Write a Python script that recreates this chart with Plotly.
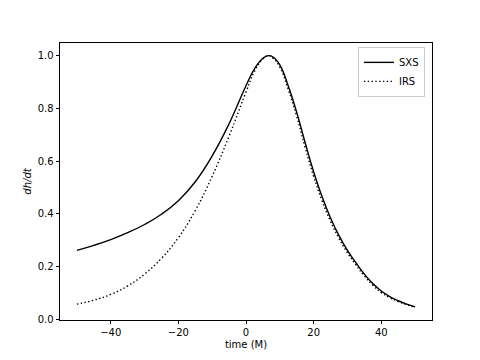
import plotly.graph_objects as go

time_m = [-50, -45, -40, -35, -30, -25, -20, -15, -10, -5, 0, 2.5, 5, 6.6, 8, 10,
          12.5, 15, 17.5, 20, 22.5, 25, 27.5, 30, 32.5, 35, 37.5, 40, 42.5, 45, 47.5, 50]
sxs = [0.262, 0.281, 0.303, 0.329, 0.360, 0.399, 0.450, 0.522, 0.620, 0.742, 0.886,
       0.950, 0.990, 1.000, 0.995, 0.965, 0.885, 0.785, 0.670, 0.560, 0.465, 0.385,
       0.318, 0.262, 0.215, 0.172, 0.136, 0.108, 0.087, 0.071, 0.058, 0.048]
irs = [0.058, 0.073, 0.095, 0.127, 0.172, 0.232, 0.310, 0.413, 0.543, 0.695, 0.862,
       0.940, 0.988, 1.000, 0.990, 0.957, 0.872, 0.770, 0.652, 0.543, 0.450, 0.372,
       0.307, 0.253, 0.207, 0.165, 0.130, 0.102, 0.083, 0.068, 0.056, 0.046]

fig = go.Figure()
fig.add_trace(go.Scatter(x=time_m, y=sxs, mode="lines", name="SXS",
                         line=dict(color="black", width=1.4, shape="spline",
                                   smoothing=1.3)))
fig.add_trace(go.Scatter(x=time_m, y=irs, mode="lines", name="IRS",
                         line=dict(color="black", width=1.4, dash="1.4px,2.4px",
                                   shape="spline", smoothing=1.3)))

axis_common = dict(showline=True, mirror=True, linecolor="black", linewidth=0.8,
                   ticks="outside", ticklen=3.5, tickwidth=0.8, tickcolor="black",
                   showgrid=False, zeroline=False, automargin=False,
                   tickfont=dict(family="DejaVu Sans", size=10, color="black"))

fig.update_layout(
    width=480, height=360,
    margin=dict(l=52, r=56, t=35, b=48, pad=0),
    paper_bgcolor="white", plot_bgcolor="white",
    font=dict(family="DejaVu Sans", size=10, color="black"),
    xaxis=dict(range=[-55, 55], tickvals=[-40, -20, 0, 20, 40],
               title=dict(text="time (M)", standoff=3,
                          font=dict(family="DejaVu Sans", size=10)),
               **axis_common),
    yaxis=dict(range=[-0.002, 1.048], tickvals=[0, 0.2, 0.4, 0.6, 0.8, 1.0],
               tickformat=".1f",
               title=dict(text="<i>dh/dt</i>", standoff=4,
                          font=dict(family="DejaVu Sans", size=10)),
               **axis_common),
    legend=dict(x=0.981, y=0.986, xanchor="right", yanchor="top",
                bordercolor="#cccccc", borderwidth=1, bgcolor="white",
                font=dict(family="DejaVu Sans", size=10)),
    showlegend=True,
)

fig.write_html("out.html")
